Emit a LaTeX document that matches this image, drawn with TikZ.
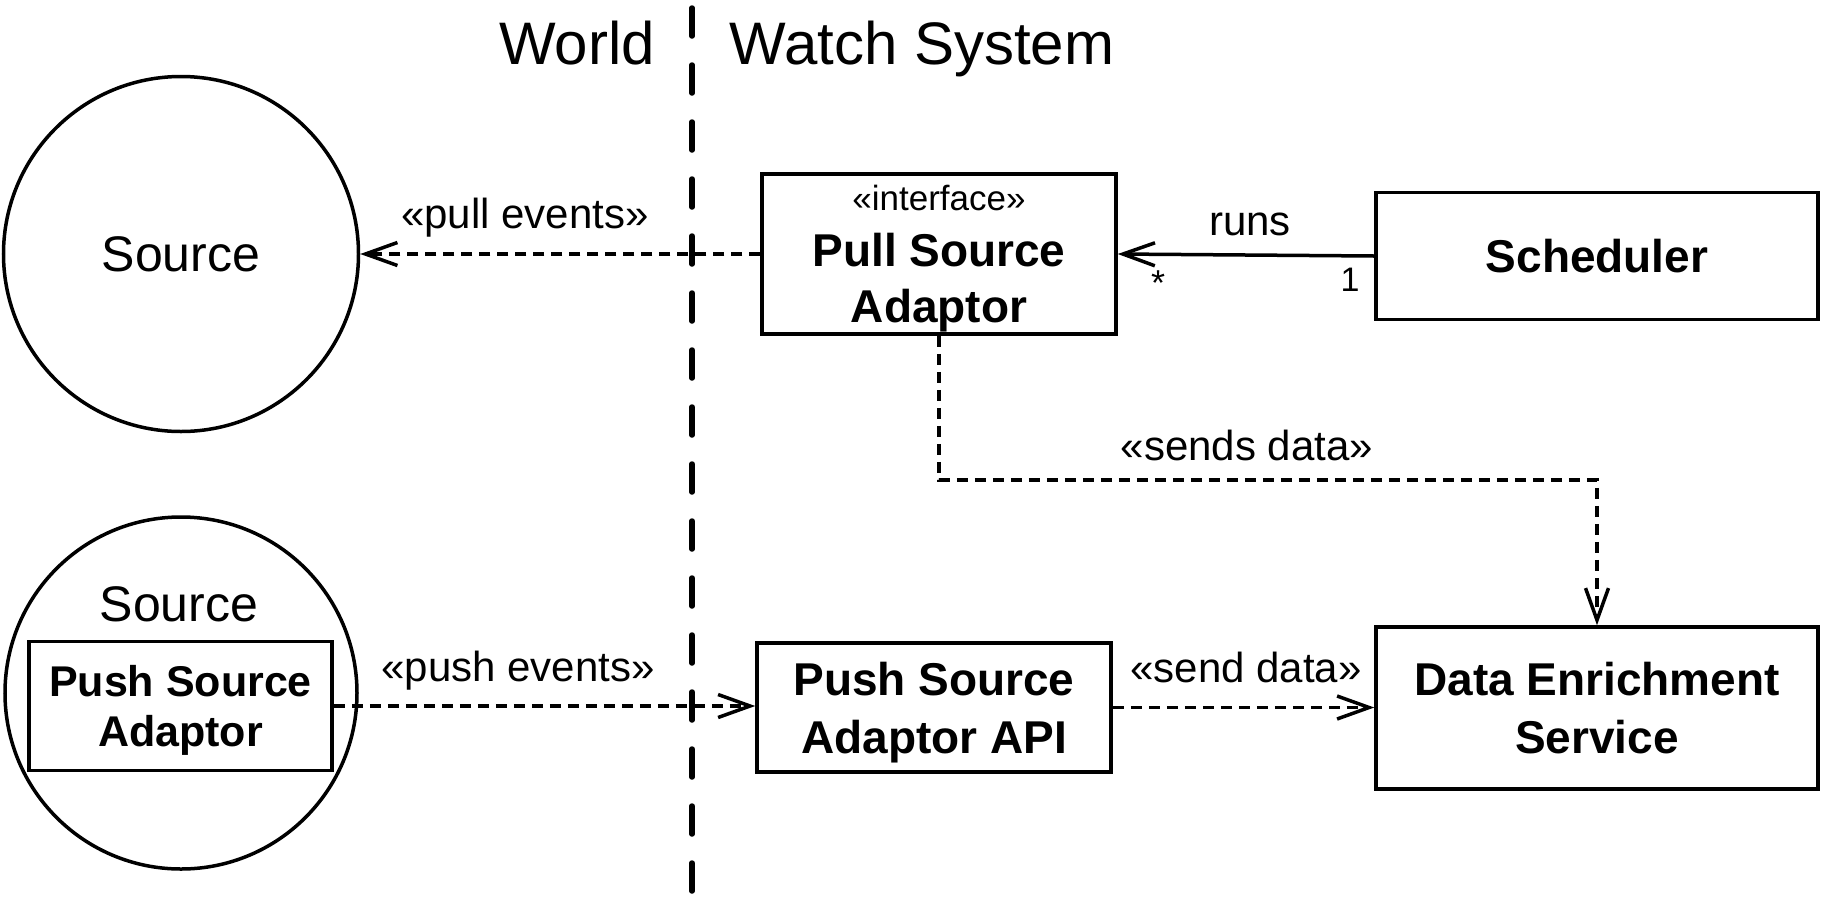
\documentclass[tikz,border=0pt]{standalone}
\usepackage{fontspec}
\setmainfont{Liberation Sans}
\usetikzlibrary{arrows.meta,calc}
\begin{document}
\begin{tikzpicture}[x=1pt,y=-1pt,
  box/.style={draw, line width=3.5pt, rectangle, inner sep=0pt, text depth=0pt,
    align=center, font=\fontsize{46}{58}\selectfont\bfseries},
  world/.style={draw, circle, line width=3.5pt, inner sep=0pt},
  title/.style={anchor=base, inner sep=0pt, font=\fontsize{60}{72}\selectfont},
  lbl/.style={anchor=base, inner sep=0pt, font=\fontsize{42}{50}\selectfont},
  mult/.style={anchor=base, inner sep=0pt, font=\fontsize{34}{40}\selectfont},
  tip/.style={-{Straight Barb[length=32pt,width=23pt]}},
  dep/.style={tip, line width=3.5pt, dash pattern=on 11pt off 7pt},
  assoc/.style={tip, line width=3.5pt},
  divider/.style={line width=5.5pt, line cap=round, dash pattern=on 28pt off 29pt}
]
\useasboundingbox (0,0) rectangle (1821,903);

% system boundary
\coordinate (divtop) at (692,8);
\coordinate (divbot) at (692,898);
\draw[divider] (divtop) -- (divbot);
\node[title] (tworld) at (577,64) {World};
\node[title] (twatch) at (922,64) {Watch System};

% world side
\node[world, minimum size=355pt, font=\fontsize{50}{60}\selectfont] (src1) at (181,254) {Source};
\node[world, minimum size=352pt] (src2) at (181,693) {};
\node[anchor=base, inner sep=0pt, font=\fontsize{50}{60}\selectfont] (src2lbl) at (179,621) {Source};
\node[box, minimum width=303pt, minimum height=129pt, font=\fontsize{43}{50}\selectfont\bfseries] (psa) at (180.5,706) {Push Source\\Adaptor};

% watch system side
\node[box, minimum width=354pt, minimum height=160pt, font=\fontsize{46}{56}\selectfont\bfseries] (pull) at (939,254)
  {{\fontsize{35}{56}\mdseries\selectfont «interface»}\\Pull Source\\Adaptor};
\node[box, minimum width=442pt, minimum height=127pt] (sched) at (1597,256) {Scheduler};
\node[box, minimum width=354pt, minimum height=129pt] (api) at (934,707.5) {Push Source\\Adaptor API};
\node[box, minimum width=442pt, minimum height=162pt] (des) at (1597,708) {Data Enrichment\\Service};

% connectors
\draw[dep] (pull.west) -- (src1.east);
\node[lbl] (lpull) at (525,228) {«pull events»};

\draw[assoc] (sched.west) -- (pull.east);
\node[lbl] (lruns) at (1250,235) {runs};
\node[mult, font=\fontsize{36}{40}\selectfont] (mstar) at (1158,295) {*};
\node[mult] (mone) at (1350,291) {1};

\coordinate (bend) at (1250,480);
\draw[dep] (pull.south) -- (pull.south |- bend) -- (des.north |- bend) -- (des.north);
\node[lbl] (lsends) at (1247,460) {«sends data»};

\draw[dep] (psa.east) -- (psa.east -| api.west);
\node[lbl] (lpush) at (518,681) {«push events»};

\draw[dep] (api.east) -- (api.east -| des.west);
\node[lbl] (lsend) at (1246,682) {«send data»};
\end{tikzpicture}
\end{document}
